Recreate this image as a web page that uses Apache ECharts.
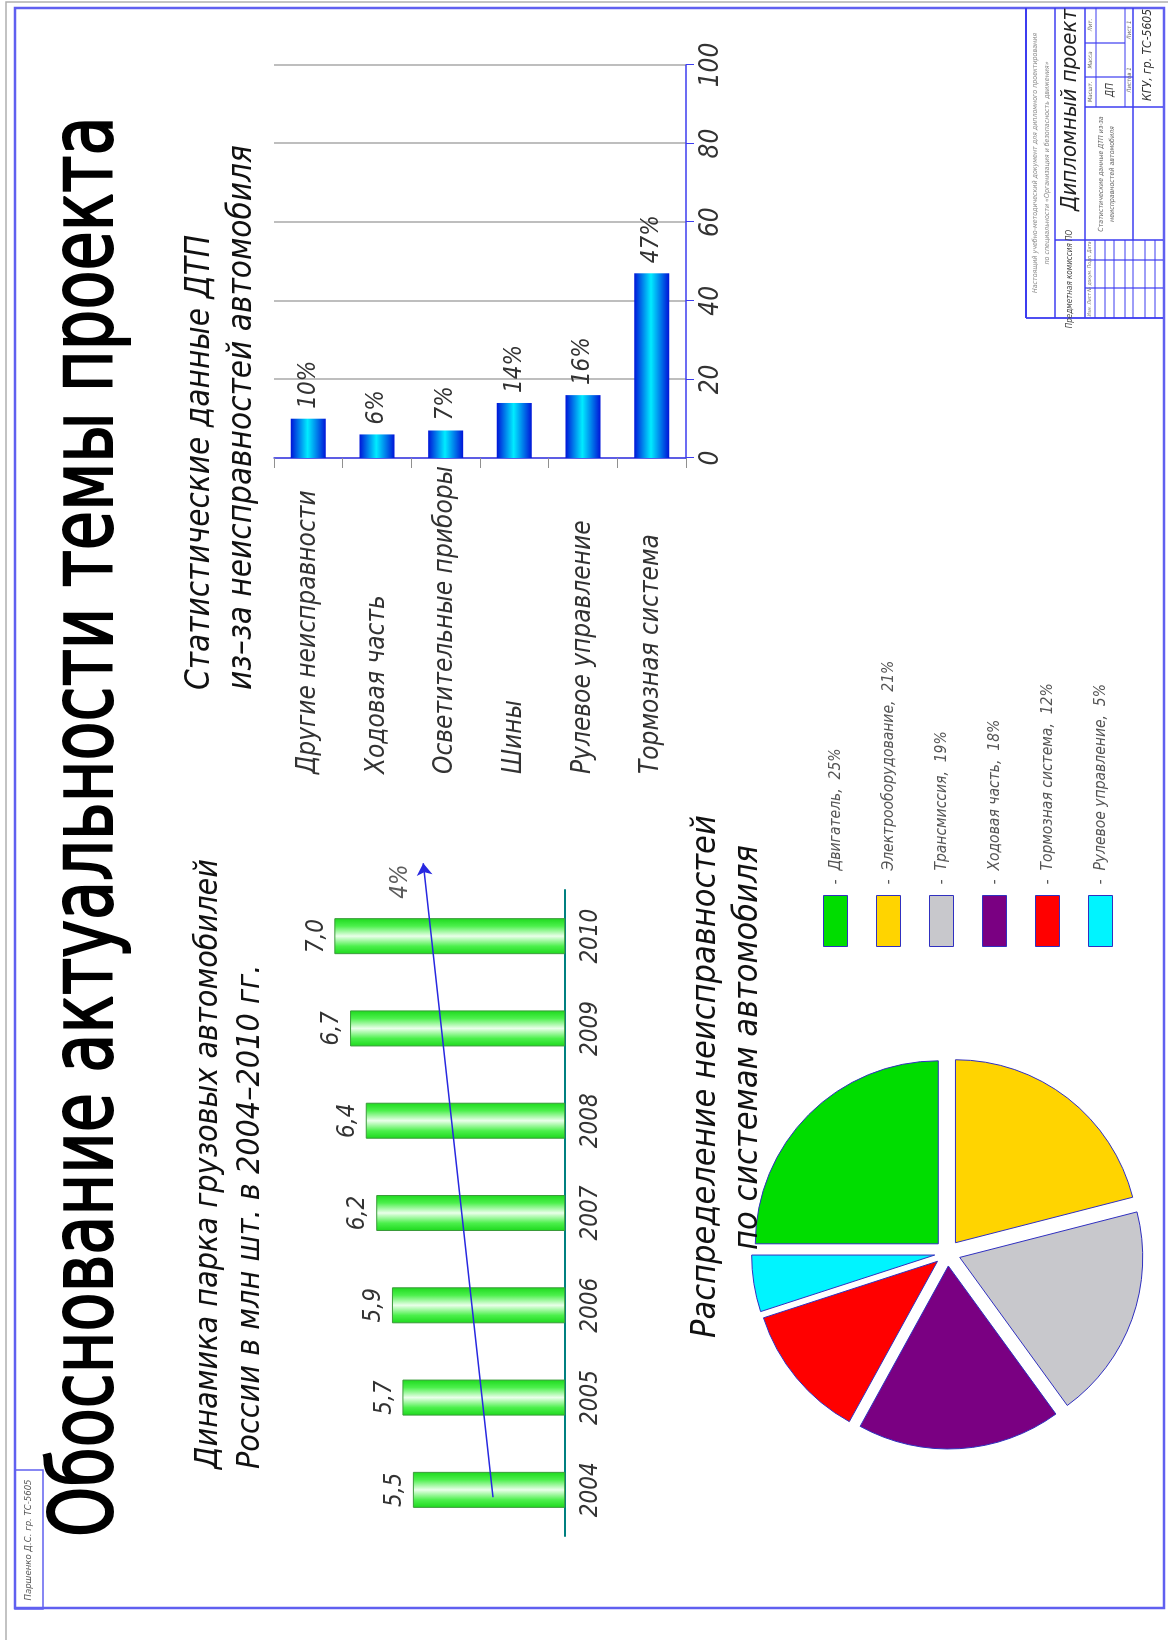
<!DOCTYPE html>
<html><head><meta charset="utf-8">
<script src="https://cdn.jsdelivr.net/npm/echarts@6/dist/echarts.min.js"></script>
<style>
html,body{margin:0;padding:0;background:#fff;width:1168px;height:1640px;overflow:hidden}
#wrap{position:absolute;left:0;top:0;width:1640px;height:1168px;transform-origin:0 0;transform:translateY(1640px) rotate(-90deg);background:#fff}
</style></head>
<body><div id="wrap"></div>
<script>
// ---- data ----
const years = ['2004','2005','2006','2007','2008','2009','2010'];
const truckFleet = [5.5, 5.7, 5.9, 6.2, 6.4, 6.7, 7.0];
const trendLine = [[-0.08, 3.97], [6.79, 5.30]];
const trendLabelPos = [6.59, 5.73];
const trendLabel = '4%';
const faultCats = ['Другие неисправности','Ходовая часть','Осветительные приборы','Шины','Рулевое управление','Тормозная система'];
const faultShare = [10, 6, 7, 14, 16, 47];
const shareTicks = [0, 20, 40, 60, 80, 100];
const systemNames = ['Двигатель','Электрооборудование','Трансмиссия','Ходовая часть','Тормозная система','Рулевое управление'];
const systemShare = [25, 21, 19, 18, 12, 5];
const systemColors = ['#00dd00','#ffd400','#c8c8cc','#7a0082','#ff0000','#00f4ff'];

const FONT = "'DejaVu Sans Condensed','DejaVu Sans',sans-serif";
const BLUE = '#3c3cf0';

const chart = echarts.init(document.getElementById('wrap'));

function ln(x1,y1,x2,y2,w,c){return {type:'line',silent:true,shape:{x1,y1,x2,y2},style:{stroke:c||BLUE,lineWidth:w||1.2}};}
function tx(text,x,y,size,opt){opt=opt||{};var st={text:text,x:0,y:0,font:(opt.it===false?'':'italic ')+size+'px '+(opt.f||FONT),fill:opt.c||'#333',
  textAlign:opt.a||'center',textVerticalAlign:'middle'};
  if(opt.sw){st.stroke=opt.c||'#000';st.lineWidth=opt.sw;}
  return {type:'text',silent:true,x:x,y:y,scaleY:opt.sy||1,style:st};}

const BB = 1322; // bottom (left in rotated frame) edge of the title block
const graphics = [
  {type:'polyline',silent:true,shape:{points:[[0,6],[1638,6],[1638,1168]]},style:{stroke:'#b0b0b0',lineWidth:1.5,fill:null}},
  {type:'rect',silent:true,shape:{x:32,y:15,width:1600,height:1149},style:{stroke:'#6060f0',lineWidth:2.5,fill:null}},
  {type:'rect',silent:true,shape:{x:31,y:15,width:139,height:28},style:{stroke:'#6060f0',lineWidth:1.5,fill:null}},
  tx('Паршенко Д.С. гр. ТС-5605',100,29,9.5,{c:'#555'}),
  // main title
  tx('Обоснование актуальности темы проекта',103,90,71,{it:false,a:'left',c:'#000',sy:1.22,sw:1.6}),
  // title block
  ln(BB,1026,1632,1026,1.8), ln(BB,1026,BB,1163,1.8),
  ln(BB,1055,1632,1055,1.5), ln(BB,1085,1632,1085,1.5), ln(1400,1133,1632,1133,1.5),
  ln(1400,1055,1400,1163,1.5), ln(1533,1085,1533,1163,1.5),
  ln(1533,1096,1632,1096,1.2), ln(1533,1125,1632,1125,1.2),
  ln(1597,1085,1597,1125,1.2), ln(1563,1085,1563,1133,1.2),
  ln(1380,1085,1380,1163,1.2), ln(1352,1085,1352,1163,1.2),
  ln(BB,1095,1400,1095,1), ln(BB,1105,1400,1105,1), ln(BB,1114,1400,1114,1), ln(BB,1125,1400,1125,1),
  ln(BB,1133,1400,1133,1), ln(BB,1145,1400,1145,1), ln(BB,1155,1400,1155,1),
  tx('Настоящий учебно-методический документ для дипломного проектирования',1477,1035,7,{c:'#888'}),
  tx('по специальности «Организация и безопасность движения»',1477,1047,7,{c:'#888'}),
  tx('Дипломный проект',1530,1070,22,{c:'#222'}),
  tx('Предметная комиссия ПО',1361,1070,8,{c:'#444'}),
  tx('Статистические данные ДТП из-за',1466,1101,7,{c:'#666'}),
  tx('неисправностей автомобиля',1466,1112,7,{c:'#666'}),
  tx('ДП',1550,1110,10,{c:'#444'}),
  tx('Лит.',1615,1090,6,{c:'#666'}), tx('Масса',1580,1090,6,{c:'#666'}), tx('Масшт.',1548,1090,6,{c:'#666'}),
  tx('Лист 1',1610,1129,6,{c:'#666'}), tx('Листов 1',1560,1129,6,{c:'#666'}),
  tx('КГУ, гр. ТС-5605',1585,1148,12,{c:'#333'}),
  tx('Изм. Лист № докум. Подп. Дата',1361,1090,5,{c:'#777'})
];

function titleObj(text,left,top,size,lh){return {text:text,left:left,top:top,padding:0,
  textStyle:{fontFamily:FONT,fontStyle:'italic',fontWeight:'normal',fontSize:size,lineHeight:lh,color:'#111'}};}

const gradGreen = new echarts.graphic.LinearGradient(0,0,1,0,[
  {offset:0,color:'#1cd81c'},{offset:0.22,color:'#4cf04c'},{offset:0.5,color:'#eaffea'},
  {offset:0.78,color:'#4cf04c'},{offset:1,color:'#1cd81c'}]);
const gradBlue = new echarts.graphic.LinearGradient(0,0,0,1,[
  {offset:0,color:'#0014d8'},{offset:0.48,color:'#00ecff'},{offset:1,color:'#0014d8'}]);

const labelBase = {fontFamily:FONT,fontStyle:'italic',color:'#333'};

const option = {
  animation:false,
  backgroundColor:'#fff',
  title:[
    titleObj('Динамика парка грузовых автомобилей\nРоссии в млн шт. в 2004–2010 гг.',171,188,32,42),
    titleObj('Статистические данные ДТП\nиз–за неисправностей автомобиля',950,179,33,42),
    titleObj('Распределение неисправностей',302,687,34,38),
    titleObj('по системам автомобиля',390,729,34,38)
  ],
  graphic:graphics,
  grid:[
    {left:104,top:282,width:646,height:282.7},
    {left:1182,top:274,width:393,height:412}
  ],
  xAxis:[
    {gridIndex:0,type:'category',data:years,
      axisLine:{show:true,lineStyle:{color:'#008080',width:2}},axisTick:{show:false},
      axisLabel:Object.assign({fontSize:24,margin:14,color:'#222'},labelBase)},
    {gridIndex:0,type:'value',min:-0.5,max:6.5,show:false},
    {gridIndex:1,type:'value',min:0,max:100,interval:20,
      axisLine:{show:true,lineStyle:{color:BLUE,width:1.5}},
      axisTick:{show:true,length:8,lineStyle:{color:BLUE}},
      splitLine:{show:true,lineStyle:{color:'#a8a8a8',width:1.5}},
      axisLabel:Object.assign({fontSize:26,margin:12,
        formatter:function(v){return shareTicks.indexOf(v)>=0?String(v):'';}},labelBase)}
  ],
  yAxis:[
    {gridIndex:0,type:'value',min:2.6,max:8,show:false},
    {gridIndex:1,type:'category',data:faultCats,inverse:true,
      axisLine:{show:true,lineStyle:{color:BLUE,width:1.5}},
      axisTick:{show:true,length:10,lineStyle:{color:'#909090'}},
      axisLabel:Object.assign({fontSize:26,align:'left',margin:316,color:'#111'},labelBase)}
  ],
  legend:{orient:'vertical',left:693,top:823,padding:0,itemWidth:51,itemHeight:24,itemGap:28,icon:'rect',
    selectedMode:false,data:systemNames,
    itemStyle:{borderColor:'#3030c0',borderWidth:1},
    formatter:function(n){return '-  '+n+',  '+systemShare[systemNames.indexOf(n)]+'%';},
    textStyle:{fontFamily:FONT,fontStyle:'italic',fontSize:15.5,color:'#555',padding:[0,0,0,6]}},
  series:[
    {type:'bar',xAxisIndex:0,yAxisIndex:0,data:truckFleet,barWidth:36,
      itemStyle:{color:gradGreen,borderColor:'#3a9a3a',borderWidth:1},
      label:Object.assign({show:true,position:'top',distance:6,fontSize:24,
        formatter:function(p){return p.value.toFixed(1).replace('.',',');}},labelBase)},
    {type:'lines',coordinateSystem:'cartesian2d',xAxisIndex:1,yAxisIndex:0,clip:false,z:5,
      data:[{coords:trendLine}],symbol:['none','arrow'],symbolSize:[0,12],
      lineStyle:{color:'#2828e0',width:1.5,opacity:1}},
    {type:'scatter',xAxisIndex:1,yAxisIndex:0,clip:false,symbolSize:2,itemStyle:{color:'rgba(0,0,0,0)'},
      data:[trendLabelPos],
      label:Object.assign({show:true,position:'inside',fontSize:24,formatter:trendLabel},labelBase)},
    {type:'bar',xAxisIndex:2,yAxisIndex:1,data:faultShare,barWidth:35,
      itemStyle:{color:gradBlue},
      label:Object.assign({show:true,position:'right',distance:10,fontSize:24,formatter:'{c}%'},labelBase)},
    {type:'pie',center:[387,947.5],radius:183,startAngle:90,clockwise:true,
      selectedMode:'multiple',selectedOffset:13,
      itemStyle:{borderColor:'#3030c0',borderWidth:1},
      label:{show:false},labelLine:{show:false},emphasis:{disabled:true},
      data:systemNames.map(function(n,i){return {name:n,value:systemShare[i],selected:true,itemStyle:{color:systemColors[i]}};})}
  ]
};
chart.setOption(option);
</script>
</body></html>
